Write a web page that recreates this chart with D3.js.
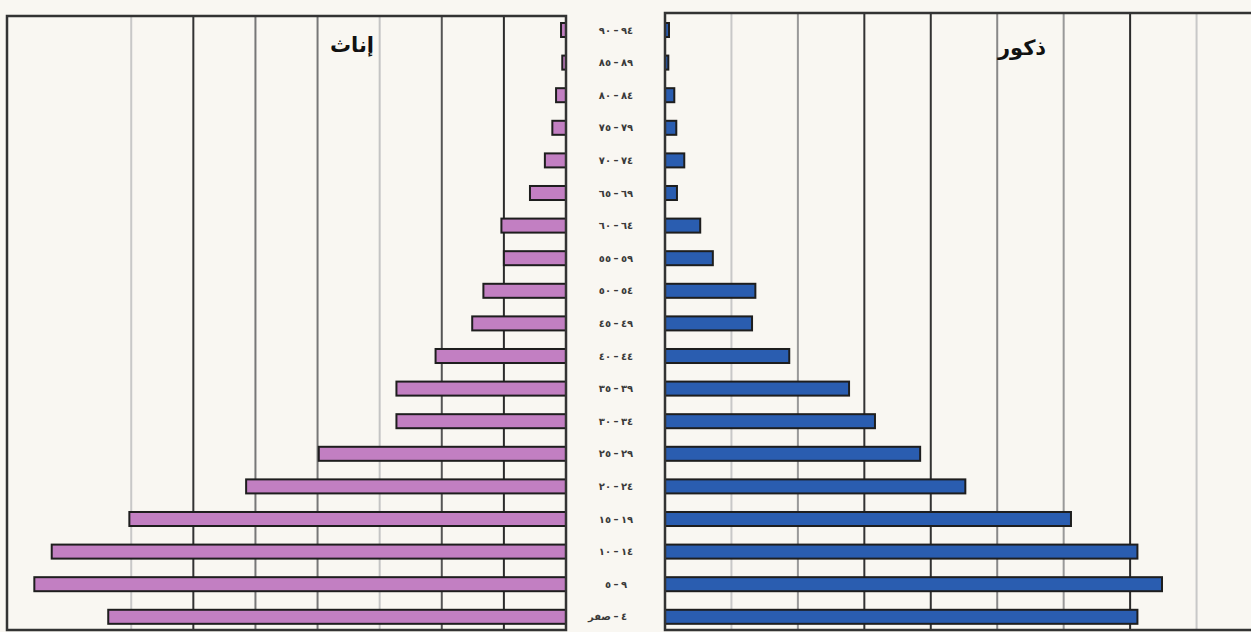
<!doctype html>
<html>
<head>
	<meta charset="utf-8">
	<script src="https://d3js.org/d3.v7.min.js"></script>
	<style>
		body { margin: 0; background: #f9f7f2; }
		svg { display: block; }
	</style>
</head>
<body>
	<div id="viz">
		<svg style="width:1251px;height:632px;"></svg>
	</div>
	<script>

		// age groups, top to bottom (low bound, high bound)
		var ageLow = ["٩٠", "٨٥", "٨٠", "٧٥", "٧٠", "٦٥", "٦٠", "٥٥", "٥٠", "٤٥",
			"٤٠", "٣٥", "٣٠", "٢٥", "٢٠", "١٥", "١٠", "٥", "\u0635\u0641\u0631"];
		var ageHigh = ["٩٤", "٨٩", "٨٤", "٧٩", "٧٤", "٦٩", "٦٤", "٥٩", "٥٤", "٤٩",
			"٤٤", "٣٩", "٣٤", "٢٩", "٢٤", "١٩", "١٤", "٩", "\u0664"];
		var ageGroups = ageLow.map((d, i) => d + "-" + ageHigh[i]);

		// percentages
		var females = [0.08, 0.06, 0.16, 0.22, 0.34, 0.58, 1.04, 1.0, 1.33, 1.51, 2.1, 2.73,
			2.73, 3.98, 5.15, 7.03, 8.28, 8.56, 7.37];
		var males = [0.06, 0.05, 0.14, 0.17, 0.29, 0.18, 0.53, 0.72, 1.36, 1.31, 1.87, 2.77,
			3.16, 3.84, 4.52, 6.11, 7.11, 7.48, 7.11];

		var femaleTicks = [1, 2, 3, 4, 5, 6, 7];
		var maleTicks = [1, 2, 3, 4, 5, 6, 7, 8];

		var femaleTitle = "إناث";
		var maleTitle = "ذكور";

		var svg = d3.select("svg");

		var yScale = d3.scaleBand()
			.domain(ageGroups)
			.range([13.7, 633.1])
			.paddingInner(0.57)
			.paddingOuter(0.285);

		var xLeft = d3.scaleLinear().domain([0, 9]).range([566, 7]);
		var xRight = d3.scaleLinear().domain([0, 9]).range([665, 1263]);

		// uneven grid shading like the scanned original
		var leftShade = ["#2b2b2b", "#555", "#c4c4c4", "#777", "#777", "#333", "#c8c8c8"];
		var rightShade = ["#c8c8c8", "#999", "#333", "#333", "#888", "#999", "#2b2b2b", "#c8c8c8"];

		svg.append("rect")
			.attr("x", 0).attr("y", 0).attr("width", 1251).attr("height", 632)
			.attr("fill", "#f9f7f2");

		// left panel (females)
		var left = svg.append("g").attr("id", "females");

		left.selectAll("line.grid")
			.data(femaleTicks)
			.enter()
			.append("line")
				.attr("class", "grid")
				.attr("x1", d => xLeft(d)).attr("x2", d => xLeft(d))
				.attr("y1", 16).attr("y2", 630)
				.attr("stroke", (d, i) => leftShade[i])
				.attr("stroke-width", 2);

		left.selectAll("rect.bar")
			.data(females)
			.enter()
			.append("rect")
				.attr("class", "bar")
				.attr("x", d => xLeft(d))
				.attr("y", (d, i) => yScale(ageGroups[i]))
				.attr("width", d => xLeft(0) - xLeft(d))
				.attr("height", yScale.bandwidth())
				.attr("fill", "#c27fc2")
				.attr("stroke", "#1e1e1e")
				.attr("stroke-width", 2);

		left.append("rect")
			.attr("x", xLeft(9)).attr("y", 16)
			.attr("width", xLeft(0) - xLeft(9)).attr("height", 614)
			.attr("fill", "none")
			.attr("stroke", "#333")
			.attr("stroke-width", 2.5);

		left.append("text")
			.attr("x", 352).attr("y", 52)
			.attr("text-anchor", "middle")
			.attr("font-family", "DejaVu Sans")
			.attr("font-weight", "bold")
			.attr("font-size", 21)
			.attr("fill", "#111")
			.text(femaleTitle);

		// right panel (males)
		var right = svg.append("g").attr("id", "males");

		right.selectAll("line.grid")
			.data(maleTicks)
			.enter()
			.append("line")
				.attr("class", "grid")
				.attr("x1", d => xRight(d)).attr("x2", d => xRight(d))
				.attr("y1", 13).attr("y2", 630)
				.attr("stroke", (d, i) => rightShade[i])
				.attr("stroke-width", 2);

		right.selectAll("rect.bar")
			.data(males)
			.enter()
			.append("rect")
				.attr("class", "bar")
				.attr("x", xRight(0))
				.attr("y", (d, i) => yScale(ageGroups[i]))
				.attr("width", d => xRight(d) - xRight(0))
				.attr("height", yScale.bandwidth())
				.attr("fill", "#2a5db0")
				.attr("stroke", "#1e1e1e")
				.attr("stroke-width", 2);

		right.append("rect")
			.attr("x", xRight(0)).attr("y", 13)
			.attr("width", xRight(9) - xRight(0)).attr("height", 617)
			.attr("fill", "none")
			.attr("stroke", "#333")
			.attr("stroke-width", 2.5);

		right.append("text")
			.attr("x", 1022).attr("y", 55)
			.attr("text-anchor", "middle")
			.attr("font-family", "DejaVu Sans")
			.attr("font-weight", "bold")
			.attr("font-size", 21)
			.attr("fill", "#111")
			.text(maleTitle);

		// age labels in the middle: low bound on the left, dash, high bound on the right
		var labels = svg.append("g")
			.attr("id", "ages")
			.attr("font-family", "DejaVu Sans")
			.attr("font-weight", "bold")
			.attr("font-size", 10)
			.attr("fill", "#3a3a3a")
			.selectAll("g")
			.data(ageGroups)
			.enter()
			.append("g")
				.attr("transform", d => "translate(616," + (yScale(d) + yScale.bandwidth() / 2) + ")");

		labels.append("text")
			.attr("x", -5).attr("dy", "0.35em")
			.attr("text-anchor", "end")
			.text((d, i) => ageLow[i]);

		labels.append("text")
			.attr("x", 0).attr("dy", "0.35em")
			.attr("text-anchor", "middle")
			.text("–");

		labels.append("text")
			.attr("x", 5).attr("dy", "0.35em")
			.attr("text-anchor", "start")
			.text((d, i) => ageHigh[i]);

	</script>
</body>
</html>
